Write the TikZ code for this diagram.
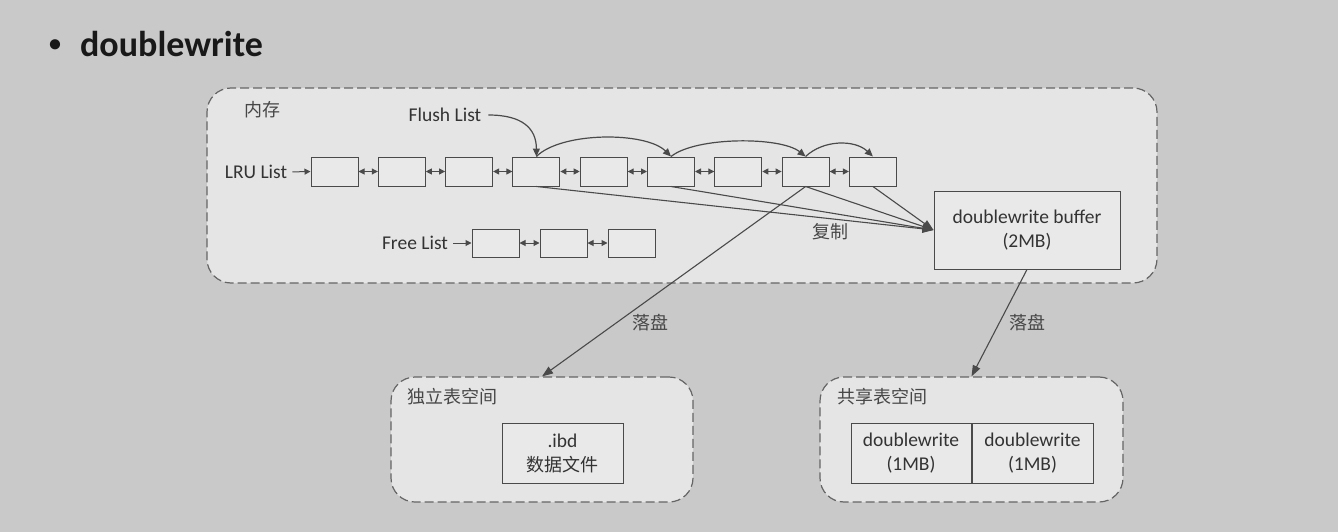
\documentclass[tikz,border=0pt]{standalone}
\usepackage{fontspec}
\setmainfont{Carlito}
\newfontfamily\cjk{Noto Sans CJK SC}
\usetikzlibrary{arrows.meta,positioning,calc}
\definecolor{Slide}{HTML}{C9C9C9}
\definecolor{Pane}{HTML}{E5E5E5}
\definecolor{Cell}{HTML}{E9E9E9}
\definecolor{Ink}{HTML}{4A4A4A}
\definecolor{Txt}{HTML}{333333}
\tikzset{
  pane/.style={draw=Ink!85,line width=1.2pt,dash pattern=on 9pt off 4pt,fill=Pane,rounded corners=24pt,inner sep=0pt},
  cell/.style={draw=Ink,line width=1pt,fill=Cell,minimum width=47pt,minimum height=29pt,inner sep=0pt},
  txt/.style={font=\fontsize{19.5}{24}\selectfont,text=Txt,inner sep=1pt},
  zh/.style={font=\cjk\fontsize{18}{22}\selectfont,text=Txt!90,inner sep=1pt},
  link/.style={Ink,line width=1pt,{Triangle[length=6pt,width=6pt]}-{Triangle[length=6pt,width=6pt]}},
  feed/.style={Ink,line width=1pt,shorten <=4pt,-{Triangle[length=6pt,width=6pt]}},
  flow/.style={Ink,line width=1.1pt,-{Triangle[length=11pt,width=8pt]}}
}

\begin{document}
\begin{tikzpicture}[x=1pt,y=-1pt]
\fill[Slide] (0,0) rectangle (1338,532);
\useasboundingbox (0,0) rectangle (1338,532);
% title
\node[anchor=base west,font=\bfseries\fontsize{36}{40}\selectfont,text=black!90,inner sep=0pt] (title) at (49,57) {\raisebox{5pt}{\fontsize{24}{24}\selectfont\textbullet}\hspace{19pt}doublewrite};
% panes
\node[pane,minimum width=950pt,minimum height=195pt] (mem) at (682,185.5) {};
\node[pane,minimum width=302pt,minimum height=125pt] (fpt) at (542,439.5) {};
\node[pane,minimum width=303pt,minimum height=125pt] (sys) at (971.5,439.5) {};
\node[zh] (memlbl) at (262,110) {内存};
\node[zh] (fptlbl) at (452,397) {独立表空间};
\node[zh] (syslbl) at (882,397) {共享表空间};
% LRU list
\node[txt] (lrulbl) at (256,172) {LRU List};
\foreach \i in {1,...,9}
  \node[cell] (lru\i) at ({334.5+67.3*(\i-1)},171.5) {};
\draw[feed] (lrulbl.east) -- (lru1.west);
\foreach \i in {1,...,8} {
  \pgfmathtruncatemacro{\j}{\i+1}
  \draw[link] (lru\i.east) -- (lru\j.west);
}
% free list
\node[txt] (freelbl) at (415,243) {Free List};
\foreach \i in {1,2,3}
  \node[cell,minimum height=28pt] (free\i) at ({495.5+68*(\i-1)},243) {};
\draw[feed] (freelbl.east) -- (free1.west);
\draw[link] (free1.east) -- (free2.west);
\draw[link] (free2.east) -- (free3.west);
% flush list
\node[txt] (flushlbl) at (445,115) {Flush List};
\draw[Ink,line width=1.2pt,shorten <=6pt,-{Triangle[length=8pt,width=7pt]}] (flushlbl.east) .. controls +(40,0) and +(0,-28) .. (lru4.north);
\draw[Ink,line width=1.2pt,-{Triangle[length=8pt,width=7pt]}] (lru4.north) .. controls +(25,-25) and +(-25,-25) .. (lru6.north);
\draw[Ink,line width=1.2pt,-{Triangle[length=8pt,width=7pt]}] (lru6.north) .. controls +(25,-20) and +(-25,-20) .. (lru8.north);
\draw[Ink,line width=1.2pt,-{Triangle[length=8pt,width=7pt]}] (lru8.north) .. controls +(18,-17) and +(-18,-17) .. (lru9.north);
% doublewrite buffer
\node[cell,txt,minimum width=186pt,minimum height=78pt,align=center] (dwb) at (1027,230) {doublewrite buffer\\(2MB)};
\foreach \i in {4,6,8,9}
  \draw[flow] (lru\i.south) -- (dwb.west);
\node[zh] (copylbl) at (830,232) {复制};
% to disk
\draw[flow] (lru8.south) -- (fpt.north);
\draw[flow] (dwb.south) -- (sys.north);
\node[zh] (disk1) at (650,323) {落盘};
\node[zh] (disk2) at (1027,323) {落盘};
% tablespaces
\node[cell,txt,minimum width=121pt,minimum height=60pt,align=center] (ibd) at (562.5,453) {.ibd\\{\cjk\fontsize{18}{24}\selectfont 数据文件}};
\node[cell,txt,minimum width=120pt,minimum height=60pt,align=center] (dw1) at (911,453) {doublewrite\\(1MB)};
\node[cell,txt,minimum width=121pt,minimum height=60pt,align=center,right=0pt of dw1] (dw2) {doublewrite\\(1MB)};
\end{tikzpicture}
\end{document}
